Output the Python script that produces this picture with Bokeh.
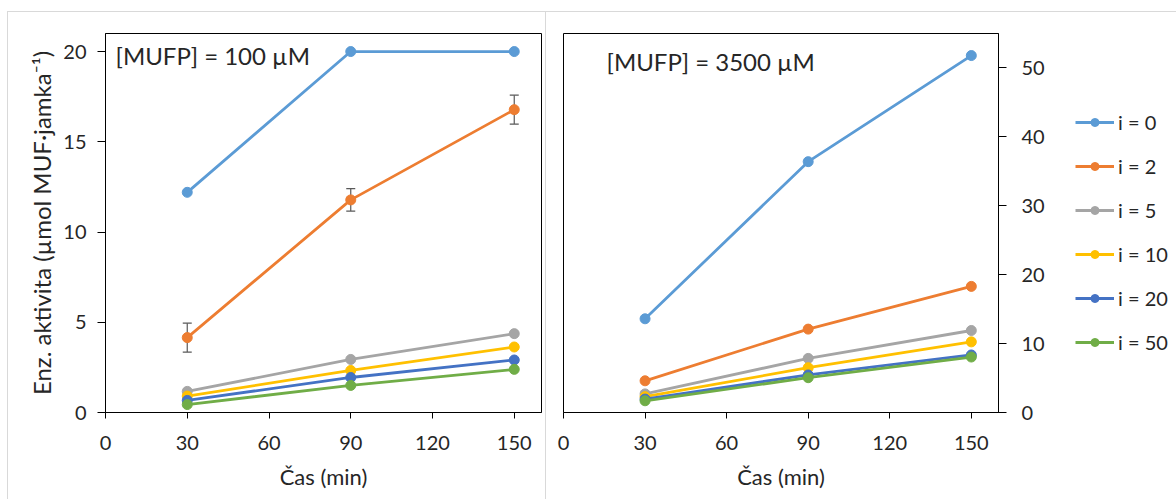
from bokeh.plotting import figure
from bokeh.models import (ColumnDataSource, FixedTicker, Legend, LegendItem, Label,
                          Whisker, TeeHead, Range1d, Spacer)
from bokeh.layouts import row, column
from bokeh.embed import file_html
from bokeh.resources import INLINE

# ---- data -------------------------------------------------------------
time_min = [30, 90, 150]
series_labels = ["i = 0", "i = 2", "i = 5", "i = 10", "i = 20", "i = 50"]
series_colors = ["#5B9BD5", "#ED7D31", "#A5A5A5", "#FFC000", "#4472C4", "#70AD47"]

# [MUFP] = 100 uM
act100_i0 = [12.2, 20.0, 20.0]
act100_i2 = [4.15, 11.78, 16.78]
act100_i5 = [1.17, 2.94, 4.37]
act100_i10 = [0.91, 2.33, 3.63]
act100_i20 = [0.67, 1.94, 2.91]
act100_i50 = [0.44, 1.50, 2.39]
sd100_i2 = [0.80, 0.62, 0.80]

# [MUFP] = 3500 uM
act3500_i0 = [13.6, 36.4, 51.8]
act3500_i2 = [4.6, 12.1, 18.3]
act3500_i5 = [2.7, 7.85, 11.9]
act3500_i10 = [2.3, 6.5, 10.25]
act3500_i20 = [1.95, 5.45, 8.35]
act3500_i50 = [1.7, 5.05, 8.05]

x_ticks = [0, 30, 60, 90, 120, 150]
y_ticks_100 = [0, 5, 10, 15, 20]
y_ticks_3500 = [0, 10, 20, 30, 40, 50]

FONT = "Lato"
TXT = "#262626"
TICK_SIZE = "20px"
GRAY = "#D9D9D9"
LINE_W = 2.8
MARK = 10


def style_axis(ax):
    ax.axis_line_color = "black"
    ax.axis_line_width = 1
    ax.major_tick_line_color = "black"
    ax.major_tick_in = 0
    ax.minor_tick_line_color = None
    ax.major_label_text_font = FONT
    ax.major_label_text_font_size = TICK_SIZE
    ax.major_label_text_color = TXT
    ax.axis_label_text_font = FONT
    ax.axis_label_text_font_size = TICK_SIZE
    ax.axis_label_text_font_style = "normal"
    ax.axis_label_text_color = TXT


def make_panel(width, y_max, y_ticks, series, y_loc, borders):
    p = figure(width=width, height=487, x_range=Range1d(0, 160), y_range=Range1d(0, y_max),
               output_backend="svg", toolbar_location=None, y_axis_location=y_loc,
               min_border_left=borders[0], min_border_right=borders[1],
               min_border_top=21, min_border_bottom=87)
    p.grid.visible = False
    p.outline_line_color = "black"
    p.outline_line_width = 1
    p.background_fill_color = "white"
    p.border_fill_color = "white"
    p.xaxis.ticker = FixedTicker(ticks=x_ticks)
    p.yaxis.ticker = FixedTicker(ticks=y_ticks)
    p.xaxis.axis_label = "Čas (min)"
    for ax in p.xaxis + p.yaxis:
        style_axis(ax)
    p.xaxis.axis_label_text_font_size = "22px"
    p.xaxis.major_tick_out = 6
    p.xaxis.major_label_standoff = 17
    p.xaxis.axis_label_standoff = 10
    p.yaxis.major_tick_out = 8
    for vals, color in zip(series, series_colors):
        src = ColumnDataSource(dict(t=time_min, v=vals))
        p.line("t", "v", source=src, line_color=color, line_width=LINE_W)
        p.scatter("t", "v", source=src, size=MARK, fill_color=color, line_color=color)
    return p


series100 = [act100_i0, act100_i2, act100_i5, act100_i10, act100_i20, act100_i50]
series3500 = [act3500_i0, act3500_i2, act3500_i5, act3500_i10, act3500_i20, act3500_i50]

# left panel: 100 uM substrate
p1 = make_panel(537, 21, y_ticks_100, series100, "left", (97, 4))
p1.yaxis.axis_label = "Enz. aktivita (µmol MUF·jamka⁻¹)"
p1.yaxis.axis_label_text_font_size = "24px"
p1.yaxis.major_label_standoff = 11
p1.yaxis.axis_label_standoff = 4

# error bars for i = 2
err_src = ColumnDataSource(dict(
    t=time_min,
    lo=[v - s for v, s in zip(act100_i2, sd100_i2)],
    hi=[v + s for v, s in zip(act100_i2, sd100_i2)],
))
whisk = Whisker(base="t", lower="lo", upper="hi", source=err_src, line_color="#595959",
                line_width=1.2,
                upper_head=TeeHead(size=9, line_color="#595959", line_width=1.2),
                lower_head=TeeHead(size=9, line_color="#595959", line_width=1.2))
p1.add_layout(whisk)

p1.add_layout(Label(x=3.7, y=19.76, text="[MUFP] = 100 µM", text_font=FONT,
                    text_font_size="24px", text_color=TXT, text_baseline="alphabetic"))

# right panel: 3500 uM substrate
p2 = make_panel(502, 55, y_ticks_3500, series3500, "right", (17, 50))
p2.yaxis.major_label_standoff = 15
p2.add_layout(Label(x=15.85, y=50.9, text="[MUFP] = 3500 µM", text_font=FONT,
                    text_font_size="24px", text_color=TXT, text_baseline="alphabetic"))

# legend strip: placeholder renderers (a single NaN point, never drawn) carry the styles
p3 = figure(width=128, height=487, x_range=Range1d(0, 1), y_range=Range1d(0, 1),
            output_backend="svg", toolbar_location=None, x_axis_type=None, y_axis_type=None,
            min_border_left=0, min_border_right=0, min_border_top=0, min_border_bottom=0)
p3.grid.visible = False
p3.outline_line_color = None
nan = float("nan")
legend_items = []
for label, color in zip(series_labels, series_colors):
    ln = p3.line(x=[nan], y=[nan], line_color=color, line_width=LINE_W)
    sc = p3.scatter(x=[nan], y=[nan], size=MARK, fill_color=color, line_color=color)
    legend_items.append(LegendItem(label=label, renderers=[ln, sc]))

legend = Legend(items=legend_items, location=(27, 58), orientation="vertical",
                glyph_width=39, glyph_height=20, label_height=20, spacing=20,
                label_standoff=4, padding=0, margin=0,
                border_line_alpha=0, background_fill_alpha=0,
                label_text_font=FONT, label_text_font_size=TICK_SIZE, label_text_color=TXT)
p3.add_layout(legend, "center")


def bar(w, h):
    return Spacer(width=w, height=h, styles={"background-color": GRAY})


layout = column(
    Spacer(width=1176, height=11),
    row(
        Spacer(width=7, height=488),
        column(
            bar(1169, 1),
            row(bar(1, 487), p1, bar(1, 487), p2, p3),
        ),
    ),
)

open("out.html", "w").write(file_html(layout, INLINE))
